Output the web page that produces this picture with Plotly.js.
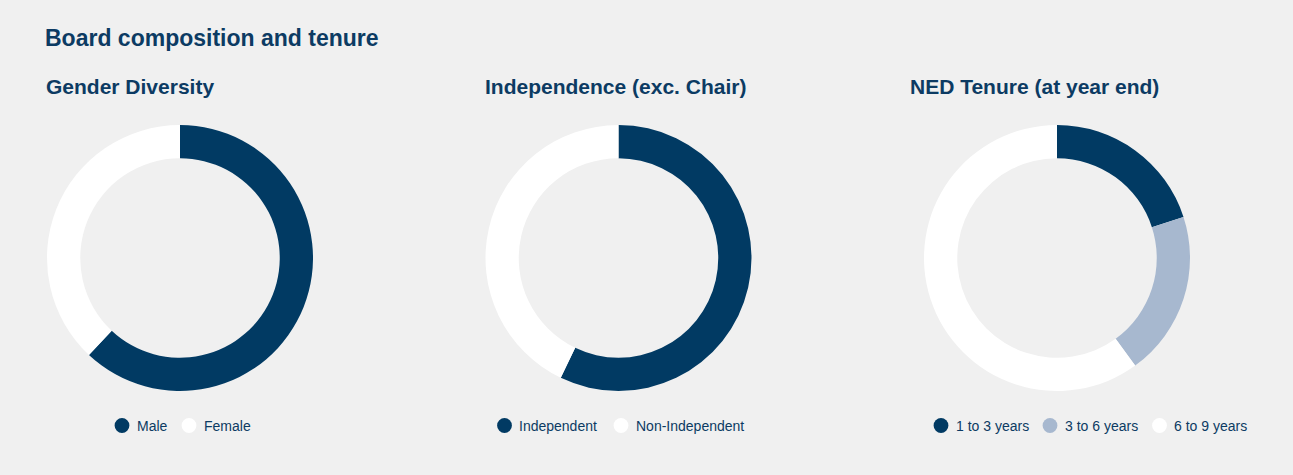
<!DOCTYPE html>
<html>
<head>
<meta charset="utf-8">
<script src="https://cdn.plot.ly/plotly-3.0.1.min.js"></script>
<style>
  html, body { margin: 0; padding: 0; background: #f0f0f0; }
  #chart { width: 1293px; height: 475px; }
</style>
</head>
<body>
<div id="chart"></div>
<script>
// ---- Data ----
const chartTitle = 'Board composition and tenure';
const panelTitles = ['Gender Diversity', 'Independence (exc. Chair)', 'NED Tenure (at year end)'];

const genderLabels = ['Male', 'Female'];
const genderValues = [62, 38];

const independenceLabels = ['Independent', 'Non-Independent'];
const independenceValues = [4, 3];

const tenureLabels = ['1 to 3 years', '3 to 6 years', '6 to 9 years'];
const tenureValues = [1, 1, 3];

// ---- Style ----
const W = 1293, H = 475;
const NAVY = '#013a63', LIGHT = '#a7b8cf', WHITE = '#ffffff';
const TEXT = '#0c3b63';
const BG = '#f0f0f0';
const FONT = 'Liberation Sans, Arial, sans-serif';

const px = x => x / W;
const py = y => 1 - y / H;

// Pie geometry (pixels): centre x, centre y, outer radius
const pies = [
  { cx: 180, cy: 258, r: 133, labels: genderLabels, values: genderValues, colors: [NAVY, WHITE],
    titleX: 43.5, legendX: [122, 189] },
  { cx: 618.5, cy: 258, r: 133, labels: independenceLabels, values: independenceValues, colors: [NAVY, WHITE],
    titleX: 482.5, legendX: [504.5, 621] },
  { cx: 1057, cy: 258, r: 133, labels: tenureLabels, values: tenureValues, colors: [NAVY, LIGHT, WHITE],
    titleX: 907.5, legendX: [941, 1050, 1159.5] }
];

const traces = pies.map(p => ({
  type: 'pie',
  labels: p.labels,
  values: p.values,
  hole: 0.75,
  sort: false,
  direction: 'clockwise',
  rotation: 0,
  textinfo: 'none',
  hoverinfo: 'label+percent',
  showlegend: false,
  marker: { colors: p.colors, line: { width: 0 } },
  domain: { x: [px(p.cx - p.r), px(p.cx + p.r)], y: [py(p.cy + p.r), py(p.cy - p.r)] }
}));

const annotations = [];
const shapes = [];

annotations.push({
  text: '<b>' + chartTitle + '</b>', xref: 'paper', yref: 'paper',
  x: px(42.5), y: py(37.5), xanchor: 'left', yanchor: 'middle', showarrow: false,
  font: { family: FONT, size: 23, color: TEXT }
});

const LEG_Y = 425.5, DOT_R = 7.4;
pies.forEach((p, i) => {
  annotations.push({
    text: '<b>' + panelTitles[i] + '</b>', xref: 'paper', yref: 'paper',
    x: px(p.titleX), y: py(86.5), xanchor: 'left', yanchor: 'middle', showarrow: false,
    font: { family: FONT, size: 21, color: TEXT }
  });
  p.labels.forEach((lab, j) => {
    const x = p.legendX[j];
    shapes.push({
      type: 'circle', xref: 'paper', yref: 'paper',
      x0: px(x - DOT_R), x1: px(x + DOT_R), y0: py(LEG_Y + DOT_R), y1: py(LEG_Y - DOT_R),
      fillcolor: p.colors[j], line: { width: 0 }
    });
    annotations.push({
      text: lab, xref: 'paper', yref: 'paper',
      x: px(x + DOT_R + 5.5), y: py(LEG_Y), xanchor: 'left', yanchor: 'middle', showarrow: false,
      font: { family: FONT, size: 14, color: TEXT }
    });
  });
});

const layout = {
  width: W, height: H,
  margin: { l: 0, r: 0, t: 0, b: 0 },
  paper_bgcolor: BG, plot_bgcolor: BG,
  showlegend: false,
  annotations: annotations,
  shapes: shapes
};

Plotly.newPlot('chart', traces, layout, { displayModeBar: false, staticPlot: true });
</script>
</body>
</html>
